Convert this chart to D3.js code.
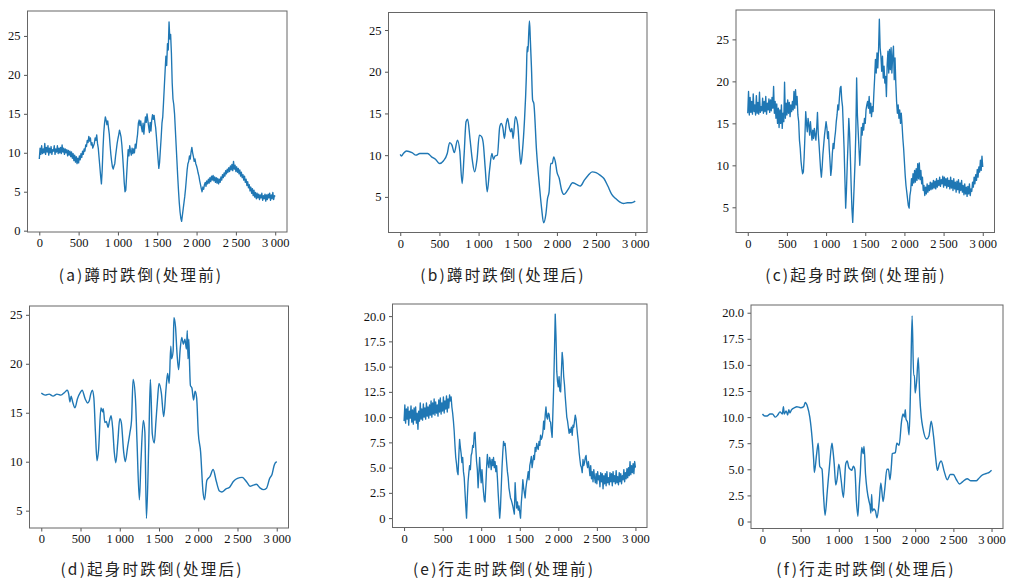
<!DOCTYPE html>
<html>
<head>
  <meta charset="utf-8" />
  <script src="https://d3js.org/d3.v7.min.js"></script>
  <style>
    body { margin: 0; padding: 0; background-color: #ffffff; }
    .tick line { stroke: #555; }
  </style>
</head>
<body>
  <svg id="chart" width="1012" height="580"></svg>
  <script>
    // x ticks shared by all six panels
    const xTicks = [0, 500, 1000, 1500, 2000, 2500, 3000];
    const xTickLabels = ["0", "500", "1\u2009000", "1\u2009500", "2\u2009000", "2\u2009500", "3\u2009000"];
    const yTicks25 = [0, 5, 10, 15, 20, 25];
    const yTicks25Labels = ["0", "5", "10", "15", "20", "25"];
    const yTicks20 = [0, 2.5, 5, 7.5, 10, 12.5, 15, 17.5, 20];
    const yTicks20Labels = ["0", "2.5", "5.0", "7.5", "10.0", "12.5", "15.0", "17.5", "20.0"];

    const captions = [
      "(a)蹲时跌倒(处理前)", "(b)蹲时跌倒(处理后)", "(c)起身时跌倒(处理前)",
      "(d)起身时跌倒(处理后)", "(e)行走时跌倒(处理前)", "(f)行走时跌倒(处理后)"
    ];

    // raw signals, one sample every 10 (0..3000)
    const squatRaw = [
      9.2,10.6,9.8,10.9,9.9,10.5,10.0,11.2,9.8,10.7,
      10.1,10.9,9.7,10.6,10.0,10.8,9.8,10.4,10.2,10.9,
      9.8,10.5,10.1,10.9,9.9,10.6,10.0,10.7,9.9,11.0,
      10.1,10.6,9.8,10.5,10.0,10.4,9.6,10.3,9.7,10.2,
      9.5,10.1,9.3,9.9,9.0,9.7,8.8,9.5,8.6,9.3,
      8.7,9.6,9.1,9.9,9.4,10.2,9.8,10.5,10.2,11.0,
      10.8,11.6,11.3,12.1,11.5,11.9,11.0,11.3,10.6,10.9,
      11.2,11.9,11.6,12.3,11.2,10.6,9.4,8.2,7.0,6.0,
      7.8,10.5,12.6,13.8,14.6,14.2,13.6,14.1,13.2,12.4,
      11.0,9.8,8.9,8.2,7.9,8.3,8.6,9.6,10.4,11.2,
      11.8,12.3,12.9,12.5,12.0,11.0,9.6,8.0,6.2,5.0,
      5.2,7.0,8.8,10.4,9.6,10.9,10.2,9.7,10.6,9.9,
      10.5,10.0,11.1,10.6,11.6,12.4,13.8,14.2,13.5,14.1,
      13.2,12.7,13.8,12.4,13.6,14.6,13.9,15.0,14.2,13.4,
      12.6,13.9,12.8,14.2,14.9,14.3,14.8,13.9,13.2,12.0,
      10.6,9.2,8.0,8.8,10.4,12.0,13.8,14.6,16.5,18.5,
      20.5,22.4,21.2,24.0,23.2,26.8,24.6,25.2,22.8,19.0,
      16.9,16.2,15.0,13.0,11.0,9.0,7.0,5.2,3.6,2.4,
      1.6,1.2,2.0,2.8,3.6,4.4,5.4,6.6,7.8,8.6,
      8.9,9.6,9.2,10.1,10.7,10.0,9.5,8.9,9.2,8.6,
      8.3,7.9,7.4,7.0,6.4,5.9,5.4,5.0,5.6,5.3,
      5.9,6.2,5.7,6.4,6.0,6.6,6.1,6.8,6.3,7.0,
      6.5,7.1,6.4,6.9,6.2,6.8,6.1,6.7,6.0,6.6,
      6.2,6.9,6.5,7.2,6.8,7.4,7.0,7.7,7.3,7.9,
      7.5,8.1,7.6,8.3,7.8,8.5,7.7,8.9,7.9,8.4,
      7.6,8.2,7.5,8.0,7.3,7.8,7.0,7.5,6.8,7.2,
      6.5,7.0,6.2,6.6,5.8,6.3,5.5,5.9,5.1,5.6,
      4.8,5.4,4.5,5.2,4.3,4.9,4.1,4.8,4.2,4.7,
      4.0,4.6,4.2,4.8,3.9,4.5,4.1,4.7,3.8,4.6,
      4.0,4.7,4.2,4.8,3.9,4.6,4.1,4.9,4.0,4.5,
      4.4
    ];

    const riseRaw = [
      16.2,18.8,16.0,18.1,16.3,17.6,16.1,18.5,16.4,17.2,
      16.0,18.3,16.2,17.5,16.1,18.7,16.3,17.0,16.5,18.0,
      16.2,17.6,16.4,18.2,16.1,17.4,16.6,17.9,16.3,17.8,
      16.5,18.1,16.8,19.4,16.2,17.6,15.6,17.3,15.0,16.8,
      14.5,16.6,15.0,17.2,14.4,16.2,15.2,19.9,15.6,17.4,
      16.0,17.8,16.2,17.5,15.8,17.2,16.4,17.6,16.6,18.8,
      16.8,19.0,17.2,18.2,16.0,15.2,13.0,12.0,10.5,9.6,
      9.0,9.2,11.0,13.5,16.4,15.0,14.0,15.6,14.8,13.6,
      15.2,14.0,13.0,14.2,13.2,14.4,13.6,13.0,14.4,16.3,
      13.8,12.5,11.0,9.5,8.6,9.8,11.4,12.5,13.6,14.4,
      15.2,14.5,13.2,14.0,12.0,10.5,8.8,9.6,11.4,12.6,
      12.0,13.2,14.0,15.2,16.0,17.2,16.6,18.0,19.2,19.4,
      17.8,17.0,14.5,12.0,8.5,4.9,7.0,10.0,12.6,15.6,
      13.8,11.0,7.6,4.8,3.2,5.5,8.0,10.5,14.0,20.4,
      16.0,14.0,12.0,10.0,11.8,14.5,13.6,15.0,14.2,15.6,
      15.0,16.6,17.2,17.6,16.8,18.2,16.2,17.4,15.8,17.0,
      16.4,18.6,20.4,22.6,21.0,23.4,21.6,23.8,27.4,24.0,
      23.0,21.2,23.0,20.4,21.8,19.8,20.6,18.2,22.0,23.6,
      21.0,23.8,21.4,24.0,21.0,23.0,24.2,20.2,22.8,19.8,
      17.6,16.2,17.2,15.6,16.6,15.0,16.2,14.8,13.2,12.0,
      10.4,8.8,7.6,6.8,6.0,5.2,4.9,6.4,7.0,8.4,
      7.6,9.0,7.9,9.4,8.0,9.6,8.2,10.2,8.4,10.3,
      8.3,9.4,7.8,8.6,7.0,7.6,6.4,7.4,6.6,7.8,
      6.8,7.6,7.0,8.0,7.1,7.9,7.2,8.2,7.3,8.1,
      7.2,8.4,7.4,8.2,7.6,8.6,7.5,8.3,7.8,8.7,
      7.4,8.6,7.6,8.4,7.3,8.5,7.5,8.2,7.2,8.6,
      7.3,8.2,7.0,8.4,7.2,8.0,6.8,8.1,7.1,8.3,
      6.7,7.9,7.0,8.2,6.8,7.6,6.5,7.8,6.6,7.4,
      6.3,7.5,6.6,7.8,6.4,7.2,6.9,8.0,7.4,8.6,
      7.8,8.9,8.2,9.5,8.6,9.8,9.2,10.6,9.4,11.1,
      9.8
    ];

    const walkRaw = [
      9.6,11.2,9.4,10.8,9.8,11.0,9.2,10.6,9.9,11.1,
      9.5,10.7,9.3,10.9,9.7,11.0,9.4,10.4,8.8,10.6,
      9.6,11.4,9.8,10.8,9.7,11.3,10.0,10.9,9.8,11.4,
      10.1,11.0,9.9,11.2,10.2,11.6,10.0,11.4,10.3,11.8,
      10.2,11.5,10.4,11.2,10.1,11.7,10.5,11.9,10.3,11.4,
      10.6,12.0,10.4,11.6,10.8,12.1,10.5,11.8,10.9,12.2,
      11.6,12.0,11.0,10.4,9.6,8.6,7.2,6.0,5.4,4.6,
      4.3,6.2,7.8,7.0,6.4,5.5,6.0,4.6,4.0,2.6,
      1.2,0.0,2.0,3.6,4.5,5.2,4.8,6.2,6.5,7.2,
      7.0,8.4,8.5,7.0,5.6,4.8,3.0,4.4,6.0,4.6,
      3.5,4.8,3.6,2.6,1.8,1.6,3.2,5.0,6.3,5.4,
      5.0,6.0,5.6,4.8,5.8,5.2,6.0,5.0,5.6,4.6,
      5.2,4.0,2.5,1.2,0.0,1.0,3.0,5.0,6.5,7.6,
      7.2,7.4,6.5,5.5,4.6,4.0,3.0,2.5,2.0,1.8,
      1.5,1.2,0.8,0.4,3.5,2.0,1.0,1.6,0.8,1.2,
      0.6,0.0,1.5,2.5,3.8,3.0,2.5,2.0,3.0,3.6,
      4.0,4.6,3.8,5.2,5.6,6.1,5.0,5.6,6.2,5.8,
      7.0,6.6,7.4,7.0,6.8,7.6,7.2,8.2,7.8,8.0,
      8.5,9.6,8.8,10.2,11.0,10.0,9.8,10.4,10.3,9.6,
      9.5,8.6,8.0,10.5,13.0,16.5,20.2,18.0,14.5,13.5,
      13.0,14.0,12.6,12.5,14.5,16.4,15.6,14.0,13.2,12.0,
      11.0,10.0,9.6,9.0,8.4,8.8,8.5,9.0,8.2,9.2,
      9.0,9.6,10.2,9.8,9.0,8.2,7.5,6.5,5.8,5.2,
      5.0,4.5,5.8,5.2,5.5,6.0,6.2,5.4,5.0,5.6,
      5.0,4.2,5.2,3.9,4.6,3.6,4.8,4.0,3.5,4.4,
      3.4,4.6,3.8,4.2,3.1,4.5,3.6,4.4,2.9,4.2,
      3.4,4.4,3.2,4.6,3.5,4.0,3.3,4.5,3.6,4.4,
      3.2,4.6,3.6,4.2,3.4,4.7,3.5,4.1,3.3,4.5,
      3.6,4.4,3.4,4.2,3.8,4.8,3.6,4.5,3.9,4.9,
      4.0,5.0,4.2,5.6,4.3,5.2,4.5,5.4,4.4,5.6,
      5.0
    ];

    // filtered signals, [x, value]
    const squatSmooth = [
      [0,10.1],[15,9.9],[40,10.2],[80,10.5],[150,10.3],[200,10.0],[250,10.2],[300,10.2],[350,10.2],
      [400,9.8],[450,9.5],[500,9.0],[550,9.3],[600,10.2],[630,11.5],[660,11.2],[690,10.3],[730,11.8],
      [760,10.5],[790,6.6],[815,10.0],[840,14.0],[860,14.3],[890,12.0],[920,9.4],[950,8.0],[980,9.5],
      [1010,12.4],[1040,12.2],[1060,11.4],[1085,8.4],[1110,5.6],[1140,8.2],[1170,10.2],[1190,9.5],
      [1210,9.9],[1240,10.0],[1270,13.4],[1290,13.8],[1310,13.3],[1330,12.0],[1350,13.6],[1370,14.4],
      [1395,13.2],[1410,12.8],[1425,13.2],[1440,12.0],[1470,14.6],[1500,13.6],[1525,10.2],[1540,8.9],
      [1560,10.5],[1585,14.0],[1610,19.5],[1620,23.0],[1630,22.4],[1640,24.5],[1650,26.1],[1660,24.0],
      [1675,20.5],[1690,16.6],[1705,16.2],[1740,10.5],[1780,6.0],[1805,3.6],[1830,1.9],[1860,3.0],
      [1880,4.8],[1900,5.6],[1920,9.0],[1940,9.0],[1960,9.8],[1980,9.2],[2000,8.0],[2030,7.2],
      [2060,5.8],[2090,5.3],[2150,6.0],[2200,6.7],[2250,6.5],[2300,6.3],[2350,7.0],[2400,7.6],
      [2450,8.0],[2500,7.9],[2550,7.6],[2600,7.2],[2650,6.3],[2700,5.3],[2750,4.8],[2800,4.4],
      [2850,4.2],[2900,4.3],[2950,4.3],[3000,4.5]
    ];

    const riseSmooth = [
      [0,17.0],[20,16.9],[50,16.8],[100,16.9],[150,16.7],[200,16.9],[250,16.8],[300,17.1],[330,17.3],
      [350,16.9],[365,16.1],[380,16.7],[400,16.1],[430,15.5],[460,16.4],[500,17.1],[520,17.3],
      [560,16.4],[590,16.0],[610,16.2],[630,16.9],[650,17.3],[670,16.5],[690,13.0],[710,10.1],
      [730,11.2],[760,15.5],[780,15.1],[790,15.4],[810,14.0],[830,14.1],[850,13.5],[870,14.2],
      [890,14.7],[910,13.4],[930,11.0],[950,9.9],[975,12.0],[1000,14.4],[1020,14.0],[1050,11.0],
      [1070,10.0],[1100,11.5],[1130,13.0],[1150,14.2],[1170,18.4],[1200,16.4],[1220,12.0],[1250,6.1],
      [1270,10.0],[1300,14.2],[1320,13.0],[1340,4.2],[1370,12.0],[1390,18.4],[1415,12.8],[1440,11.9],
      [1460,14.0],[1480,16.2],[1500,18.0],[1530,17.0],[1560,14.6],[1590,17.5],[1610,19.0],[1630,18.0],
      [1650,21.8],[1660,20.5],[1680,21.3],[1690,24.7],[1710,23.8],[1730,21.0],[1750,19.4],[1770,21.5],
      [1790,22.7],[1810,22.0],[1830,22.5],[1850,21.5],[1860,23.4],[1870,20.5],[1880,22.5],[1890,19.8],
      [1900,17.8],[1920,17.5],[1940,16.3],[1960,17.2],[1980,16.5],[2000,13.0],[2030,11.0],[2060,7.0],
      [2080,6.1],[2110,8.1],[2150,8.5],[2190,9.2],[2230,8.0],[2270,7.0],[2300,6.9],[2350,7.2],
      [2400,7.4],[2450,8.0],[2500,8.3],[2560,8.4],[2620,7.9],[2660,7.5],[2700,7.6],[2740,7.7],
      [2790,7.3],[2830,7.15],[2870,7.3],[2910,8.3],[2940,8.7],[2970,9.7],[3000,10.0]
    ];

    const walkSmooth = [
      [0,10.3],[30,10.1],[60,10.1],[100,10.3],[130,10.3],[170,10.0],[200,10.2],[230,10.5],[260,10.3],
      [275,11.0],[285,10.3],[310,10.6],[330,10.2],[345,10.7],[360,10.4],[380,10.7],[420,10.9],
      [450,11.0],[500,10.9],[540,11.0],[560,11.4],[590,11.0],[620,10.0],[650,8.0],[670,6.0],
      [680,4.7],[710,6.5],[730,7.5],[750,5.3],[780,5.0],[800,2.5],[820,0.6],[850,3.0],[880,5.5],
      [910,7.5],[920,7.0],[940,5.5],[960,3.5],[980,4.2],[1000,5.5],[1030,4.0],[1060,2.3],[1090,5.5],
      [1110,5.8],[1130,5.2],[1150,5.0],[1170,4.9],[1190,5.3],[1210,5.0],[1230,2.0],[1250,0.5],
      [1270,3.5],[1280,4.5],[1300,7.1],[1320,6.5],[1330,7.2],[1350,4.5],[1370,3.0],[1400,1.8],
      [1410,1.5],[1420,0.8],[1430,2.6],[1440,1.0],[1460,1.2],[1480,1.0],[1500,0.35],[1530,2.0],
      [1550,3.7],[1580,1.9],[1600,3.0],[1630,5.0],[1650,5.0],[1670,4.0],[1690,5.5],[1700,6.5],
      [1740,6.6],[1760,7.5],[1790,7.3],[1820,9.5],[1840,10.3],[1860,10.0],[1870,10.7],[1880,9.8],
      [1900,9.5],[1920,8.3],[1940,13.0],[1960,19.7],[1980,14.0],[1990,14.0],[2000,12.3],[2020,13.5],
      [2040,15.7],[2060,12.0],[2080,10.0],[2100,9.0],[2150,7.9],[2180,8.2],[2210,9.6],[2240,8.2],
      [2270,6.0],[2290,4.9],[2320,5.6],[2340,5.8],[2380,4.8],[2420,4.0],[2460,4.5],[2500,4.5],
      [2540,4.0],[2580,3.6],[2620,3.8],[2680,4.1],[2730,3.9],[2800,3.9],[2830,4.1],[2870,4.4],
      [2930,4.6],[2970,4.7],[3000,4.9]
    ];

    const svg = d3.select("#chart");
    const sampleX = d3.range(0, 3001, 10);
    const toPairs = vals => vals.map((v, i) => [sampleX[i], v]);

    const panels = [
      { pts: toPairs(squatRaw), smooth: false, box: [27.5, 11, 287, 232], ydom: [-0.17, 28.2], yt: yTicks25, yl: yTicks25Labels, cap: captions[0], cx: 141, cy: 276 },
      { pts: squatSmooth, smooth: true, box: [388.5, 12.5, 647, 232.5], ydom: [0.73, 27.1], yt: yTicks25, yl: yTicks25Labels, cap: captions[1], cx: 503, cy: 276 },
      { pts: toPairs(riseRaw), smooth: false, box: [736, 10, 994.5, 232.5], ydom: [2.0, 28.5], yt: yTicks25, yl: yTicks25Labels, cap: captions[2], cx: 856, cy: 276 },
      { pts: riseSmooth, smooth: true, box: [29.5, 306, 288.5, 528], ydom: [3.23, 25.9], yt: yTicks25, yl: yTicks25Labels, cap: captions[3], cx: 152, cy: 570 },
      { pts: toPairs(walkRaw), smooth: false, box: [392.5, 304, 647, 527.5], ydom: [-0.93, 21.2], yt: yTicks20, yl: yTicks20Labels, cap: captions[4], cx: 504, cy: 570 },
      { pts: walkSmooth, smooth: true, box: [751, 305, 1003, 528.5], ydom: [-0.67, 20.74], yt: yTicks20, yl: yTicks20Labels, cap: captions[5], cx: 866, cy: 570 }
    ];

    function drawPanel(p) {
      const [l, t, r, b] = p.box;
      const x = d3.scaleLinear().domain([-150, 3150]).range([l, r]);
      const y = d3.scaleLinear().domain(p.ydom).range([b, t]);
      const g = svg.append("g");

      const line = d3.line().x(d => x(d[0])).y(d => y(d[1]));
      if (p.smooth) line.curve(d3.curveMonotoneX);

      g.append("path")
        .datum(p.pts)
        .attr("d", line)
        .attr("fill", "none")
        .attr("stroke", "#1f77b4")
        .attr("stroke-width", p.smooth ? 1.4 : 1.35)
        .attr("stroke-linejoin", "round");

      // only ticks that fall inside the y range
      const yIdx = p.yt.map((v, i) => i).filter(i => p.yt[i] >= p.ydom[0] && p.yt[i] <= p.ydom[1]);

      const xa = g.append("g")
        .attr("transform", `translate(0,${b})`)
        .call(d3.axisBottom(x).tickValues(xTicks).tickFormat((d, i) => xTickLabels[i]).tickSize(3.5).tickPadding(3));
      const ya = g.append("g")
        .attr("transform", `translate(${l},0)`)
        .call(d3.axisLeft(y).tickValues(yIdx.map(i => p.yt[i])).tickFormat((d, i) => p.yl[yIdx[i]]).tickSize(3.5).tickPadding(3.5));
      [xa, ya].forEach(a => {
        a.select(".domain").remove();
        a.selectAll(".tick text")
          .attr("font-family", "'Liberation Serif', 'DejaVu Serif', serif")
          .attr("font-size", 12.5)
          .attr("fill", "#111");
      });

      // frame
      g.append("rect")
        .attr("x", l).attr("y", t)
        .attr("width", r - l).attr("height", b - t)
        .attr("fill", "none")
        .attr("stroke", "#666")
        .attr("stroke-width", 1);

      g.append("text")
        .attr("x", p.cx)
        .attr("y", p.cy)
        .attr("dy", "0.35em")
        .attr("text-anchor", "middle")
        .attr("font-family", "'Noto Sans CJK SC', sans-serif")
        .attr("font-size", 15.5)
        .attr("letter-spacing", 2.2)
        .attr("fill", "#222")
        .text(p.cap);
    }

    panels.forEach(drawPanel);
  </script>
</body>
</html>
